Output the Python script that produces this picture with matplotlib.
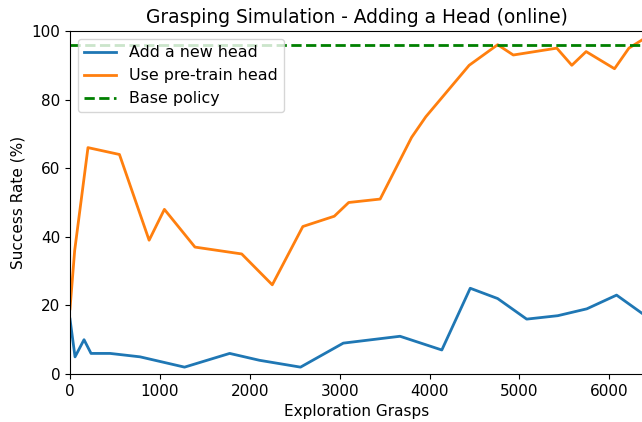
import matplotlib
matplotlib.use("Agg")
import matplotlib.pyplot as plt

new_x = [0, 56, 156, 234, 446, 780, 1274, 1776, 2107, 2564, 3040, 3671, 4136, 4452, 4757, 5080, 5426, 5749, 6080, 6400]
new_y = [16, 5, 10, 6, 6, 5, 2, 6, 4, 2, 9, 11, 7, 25, 22, 16, 17, 19, 23, 17]

pre_x = [0, 52, 200, 550, 880, 1050, 1390, 1910, 2250, 2590, 2940, 3100, 3450, 3800, 3958, 4440, 4757, 4931, 5415, 5582, 5741, 6057, 6217, 6400]
pre_y = [19, 36, 66, 64, 39, 48, 37, 35, 26, 43, 46, 50, 51, 69, 75, 90, 96, 93, 95, 90, 94, 89, 95, 98]

base_y = 96

fig = plt.figure(figsize=(6.42, 4.22), dpi=100)
ax = fig.add_axes([70/642, 48/422, 1.002 - 70/642, (374-31)/422])
ax.plot(new_x, new_y, color='#1f77b4', lw=2, label='Add a new head')
ax.plot(pre_x, pre_y, color='#ff7f0e', lw=2, label='Use pre-train head')
ax.axhline(base_y, color='green', ls='--', lw=2, label='Base policy')
ax.set_xlim(0, 6377)
ax.set_ylim(0, 100)
ax.set_xticks([0, 1000, 2000, 3000, 4000, 5000, 6000])
ax.set_yticks([0, 20, 40, 60, 80, 100])
ax.tick_params(labelsize=11)
ax.set_xlabel('Exploration Grasps', fontsize=11)
ax.set_ylabel('Success Rate (%)', fontsize=11)
ax.set_title('Grasping Simulation - Adding a Head (online)', fontsize=13.4)
ax.spines['right'].set_visible(False)
ax.legend(loc='upper left', fontsize=11.4)
fig.savefig('out.png', dpi=100)
